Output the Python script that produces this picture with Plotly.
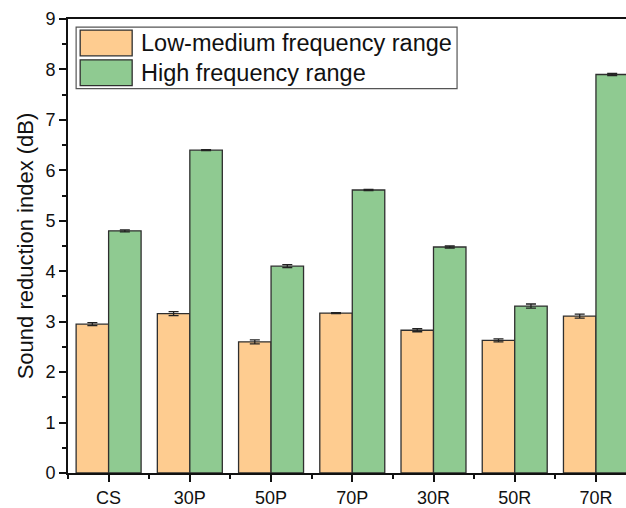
import plotly.graph_objects as go

categories = ["CS", "30P", "50P", "70P", "30R", "50R", "70R"]
low_medium = [2.95, 3.16, 2.60, 3.17, 2.83, 2.63, 3.11]
low_medium_err = [0.03, 0.04, 0.04, 0.01, 0.03, 0.03, 0.04]
high = [4.80, 6.40, 4.10, 5.61, 4.48, 3.31, 7.90]
high_err = [0.02, 0.01, 0.03, 0.01, 0.02, 0.04, 0.02]
series_names = ["Low-medium frequency range", "High frequency range"]

ORANGE = "#FECC90"
GREEN = "#8FCA91"
EDGE = "#2f2f2f"
FONT = "Liberation Sans, Arial, sans-serif"

x = list(range(len(categories)))

fig = go.Figure()
for name, vals, errs, color in [
    (series_names[0], low_medium, low_medium_err, ORANGE),
    (series_names[1], high, high_err, GREEN),
]:
    fig.add_trace(go.Bar(
        x=x, y=vals, name=name,
        marker=dict(color=color, line=dict(color=EDGE, width=1.3)),
        error_y=dict(type="data", array=errs, visible=True,
                     color="#222", thickness=1.3, width=5),
        showlegend=False,
    ))

fig.update_layout(
    width=626, height=508,
    margin=dict(l=68, r=0, t=19, b=31),
    barmode="group", bargap=0.2, bargroupgap=0,
    plot_bgcolor="white", paper_bgcolor="white",
    font=dict(family=FONT, size=18, color="#111"),
)

fig.update_xaxes(
    range=[-0.5, 6.37],
    tickmode="array", tickvals=x, ticktext=categories,
    ticks="outside", ticklen=7, tickwidth=2, tickcolor="#111",
    showline=True, linewidth=2, linecolor="#111", mirror=True,
    showgrid=False, zeroline=False,
    tickfont=dict(size=18),
    minor=dict(tick0=0.5, dtick=1, ticks="outside", ticklen=4,
               tickwidth=1.5, tickcolor="#111"),
)
fig.update_yaxes(
    range=[0, 9], dtick=1,
    ticks="outside", ticklen=7, tickwidth=2, tickcolor="#111",
    showline=True, linewidth=2, linecolor="#111", mirror=False,
    showgrid=False, zeroline=False,
    tickfont=dict(size=18),
    minor=dict(dtick=0.5, ticks="outside", ticklen=4,
               tickwidth=1.5, tickcolor="#111"),
    title=dict(text="Sound reduction index (dB)", font=dict(size=22), standoff=6),
)

# Legend box drawn in axis coordinates
fig.add_shape(type="rect", xref="x", yref="y",
              x0=-0.40, x1=4.29, y0=7.62, y1=8.84,
              line=dict(color="#555", width=1.2), fillcolor="white", layer="above")
swatch_rows = [(8.525, ORANGE), (7.935, GREEN)]
for (ymid, color), label in zip(swatch_rows, series_names):
    fig.add_shape(type="rect", xref="x", yref="y",
                  x0=-0.35, x1=0.29, y0=ymid - 0.255, y1=ymid + 0.255,
                  line=dict(color=EDGE, width=1.3), fillcolor=color, layer="above")
    fig.add_annotation(x=0.38, y=ymid, xref="x", yref="y", text=label,
                       showarrow=False, xanchor="left", yanchor="middle",
                       font=dict(size=23.5, family=FONT, color="#111"))

fig.write_html("out.html")
